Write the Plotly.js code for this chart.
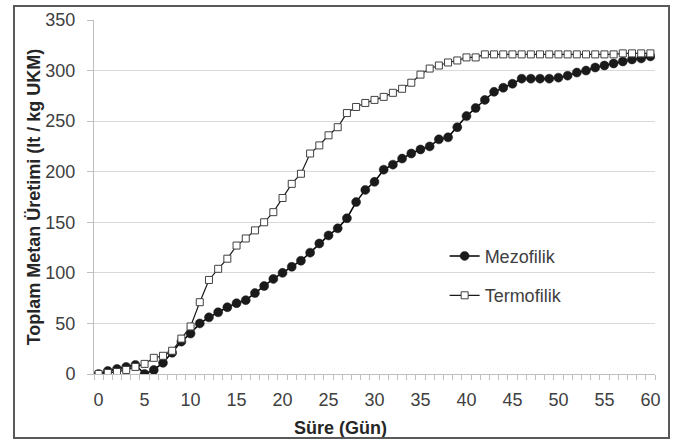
<!DOCTYPE html>
<html>
<head>
<meta charset="utf-8">
<script src="https://cdn.plot.ly/plotly-3.0.1.min.js"></script>
<style>
  html, body { margin: 0; padding: 0; background: #ffffff; }
  #wrap { position: relative; width: 681px; height: 439px; }
  #chart { width: 681px; height: 439px; }
  #frame { position: absolute; left: 13px; top: 5px; width: 653px; height: 430px;
           border: 2px solid #595959; pointer-events: none; }
</style>
</head>
<body>
<div id="wrap">
  <div id="chart"></div>
  <div id="frame"></div>
</div>
<script>
// Days (category axis, 0..60)
const days = [0,1,2,3,4,5,6,7,8,9,10,11,12,13,14,15,16,17,18,19,20,
              21,22,23,24,25,26,27,28,29,30,31,32,33,34,35,36,37,38,39,40,
              41,42,43,44,45,46,47,48,49,50,51,52,53,54,55,56,57,58,59,60];

// Mezofilik – cumulative methane (lt / kg UKM)
const mezofilik = [0,3,5,7,9,0,4,11,21,32,40,50,56,61,66,70,73,80,87,94,100,
                   106,112,120,129,137,144,154,170,182,190,202,207,213,218,222,225,232,234,244,255,
                   263,271,279,283,287,292,292,292,292,293,295,298,300,303,305,307,309,311,312,314];

// Termofilik – cumulative methane (lt / kg UKM)
const termofilik = [0,1,2,4,7,10,16,18,23,35,47,71,93,104,114,127,134,142,150,160,174,
                    188,198,218,226,236,244,258,264,268,271,274,278,282,288,296,302,305,308,310,313,
                    313,316,316,316,316,316,316,316,316,316,316,316,316,316,316,316,317,317,317,317];

const seriesNames = ["Mezofilik", "Termofilik"];
const xTickVals = [0,5,10,15,20,25,30,35,40,45,50,55,60];
const yTickVals = [0,50,100,150,200,250,300,350];
const xTitle = "Süre (Gün)";
const yTitle = "Toplam Metan Üretimi (lt / kg UKM)";

const FONT = "Liberation Sans, Arial, sans-serif";
const textColor = "#404040";

const traces = [
  {
    x: days, y: mezofilik, name: seriesNames[0], type: "scatter", mode: "lines+markers",
    line: { color: "#000000", width: 1.5 },
    marker: { symbol: "circle", size: 9, color: "#1a1a1a", line: { color: "#1a1a1a", width: 0.5 } },
    legendgroup: "a"
  },
  {
    x: days, y: termofilik, name: seriesNames[1], type: "scatter", mode: "lines+markers",
    line: { color: "#1a1a1a", width: 1.2 },
    marker: { symbol: "square", size: 7, color: "#ffffff", line: { color: "#404040", width: 1 } },
    legendgroup: "b"
  }
];

const layout = {
  width: 681, height: 439,
  margin: { l: 94, r: 26, t: 20, b: 65 },
  paper_bgcolor: "#ffffff", plot_bgcolor: "#ffffff",
  font: { family: FONT, size: 18, color: textColor },
  showlegend: true,
  legend: {
    x: 0.625, y: 0.385, xanchor: "left", yanchor: "top",
    bgcolor: "rgba(0,0,0,0)", borderwidth: 0,
    font: { family: FONT, size: 18, color: textColor },
    tracegroupgap: 13, traceorder: "grouped", itemwidth: 30
  },
  xaxis: {
    range: [-0.5, 60.5],
    tickmode: "array", tickvals: xTickVals, ticktext: xTickVals.map(String),
    ticks: "", showgrid: false, zeroline: false,
    showline: true, linecolor: "#bfbfbf", linewidth: 1,
    ticklabelstandoff: 9,
    minor: { ticks: "outside", ticklen: 5, tick0: -0.5, dtick: 1, tickcolor: "#bfbfbf", tickwidth: 1, showgrid: false },
    tickfont: { family: FONT, size: 18, color: textColor },
    title: { text: "" }
  },
  yaxis: {
    range: [0, 350],
    tickmode: "array", tickvals: yTickVals, ticktext: yTickVals.map(String),
    ticks: "outside", ticklen: 6, tickcolor: "#bfbfbf", tickwidth: 1,
    showgrid: true, gridcolor: "#d9d9d9", gridwidth: 1, zeroline: false,
    showline: true, linecolor: "#bfbfbf", linewidth: 1,
    ticklabelstandoff: 8,
    tickfont: { family: FONT, size: 18, color: textColor },
    title: { text: yTitle, standoff: 0, font: { family: FONT, size: 18, color: "#262626", weight: "bold" } }
  },
  annotations: [
    {
      text: xTitle, xref: "paper", yref: "paper", x: 0.44, y: -0.118,
      xanchor: "center", yanchor: "top", showarrow: false,
      font: { family: FONT, size: 18, color: "#262626", weight: "bold" }
    }
  ]
};

Plotly.newPlot("chart", traces, layout, { displayModeBar: false, staticPlot: true });
</script>
</body>
</html>
